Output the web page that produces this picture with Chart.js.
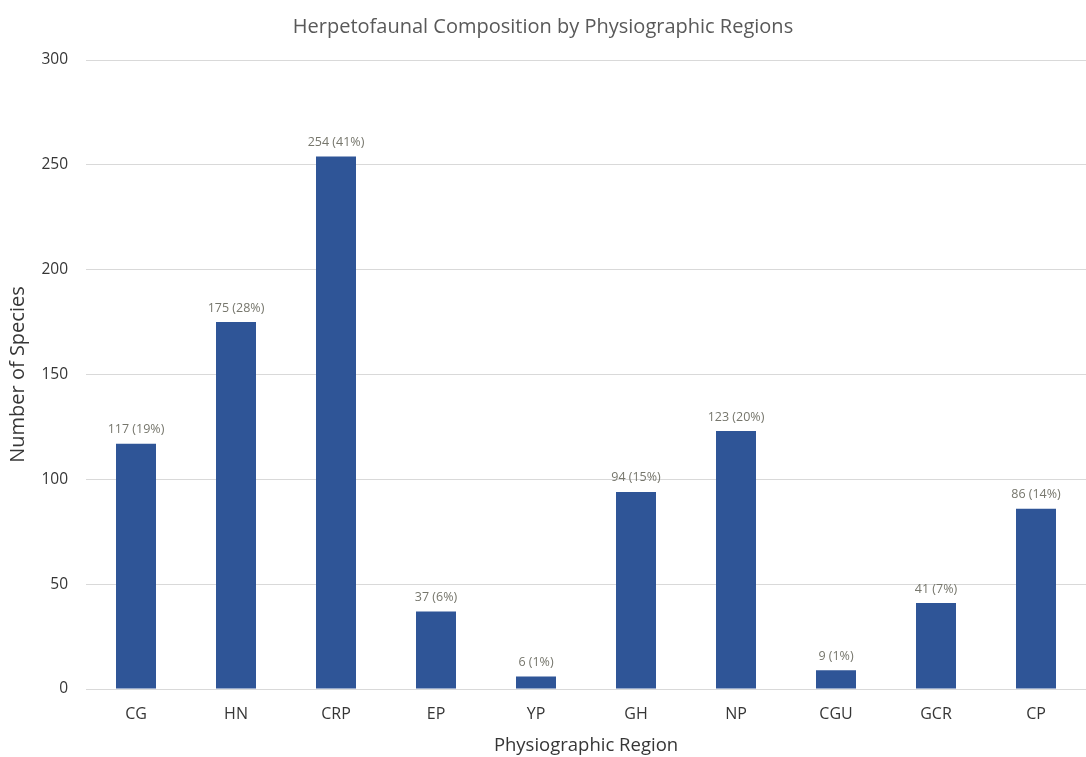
<!DOCTYPE html>
<html>
<head>
<meta charset="utf-8">
<script src="https://cdn.jsdelivr.net/npm/chart.js@4/dist/chart.umd.min.js"></script>
<style>
  html, body { margin: 0; padding: 0; background: #ffffff; }
  #wrap { width: 1086px; height: 757px; }
</style>
</head>
<body>
<div id="wrap"><canvas id="chart" width="1086" height="757"></canvas></div>
<script>
// Physiographic regions and species counts
const regions = ['CG', 'HN', 'CRP', 'EP', 'YP', 'GH', 'NP', 'CGU', 'GCR', 'CP'];
const species = [117, 175, 254, 37, 6, 94, 123, 9, 41, 86];
const sharePct = [19, 28, 41, 6, 1, 15, 20, 1, 7, 14];
const yTicks = [0, 50, 100, 150, 200, 250, 300];

const FONT = '"Open Sans", Lato, sans-serif';

// Writes "count (share%)" above each bar
const barValueLabels = {
  id: 'barValueLabels',
  afterDatasetsDraw(chart) {
    const ctx = chart.ctx;
    const meta = chart.getDatasetMeta(0);
    ctx.save();
    ctx.font = '12.5px ' + FONT;
    ctx.fillStyle = '#76766c';
    ctx.textAlign = 'center';
    ctx.textBaseline = 'middle';
    meta.data.forEach((bar, i) => {
      ctx.fillText(species[i] + ' (' + sharePct[i] + '%)', bar.x, bar.y - 14);
    });
    ctx.restore();
  }
};

new Chart(document.getElementById('chart'), {
  type: 'bar',
  data: {
    labels: regions,
    datasets: [{
      data: species,
      backgroundColor: '#2f5597',
      borderWidth: 0,
      barPercentage: 1,
      categoryPercentage: 0.4
    }]
  },
  options: {
    responsive: false,
    animation: false,
    layout: { padding: { left: 0, right: 0, top: 0, bottom: 0 } },
    plugins: {
      legend: { display: false },
      tooltip: { enabled: false },
      title: {
        display: true,
        text: 'Herpetofaunal Composition by Physiographic Regions',
        color: '#595959',
        font: { family: FONT, size: 20, weight: 'normal' },
        padding: { top: 15, bottom: 21 }
      }
    },
    scales: {
      x: {
        grid: { display: false, drawTicks: false },
        border: { display: true, color: '#d9d9d9', width: 1 },
        ticks: {
          color: '#363636',
          font: { family: FONT, size: 16 },
          padding: 16
        },
        title: {
          display: true,
          text: 'Physiographic Region',
          color: '#363636',
          font: { family: FONT, size: 18.5 },
          padding: { top: 10, bottom: 0 }
        },
        afterFit(scale) { scale.height = 68; }
      },
      y: {
        min: 0,
        max: 300,
        afterBuildTicks(scale) { scale.ticks = yTicks.map(v => ({ value: v })); },
        grid: { color: '#d9d9d9', lineWidth: 1, drawTicks: false },
        border: { display: false },
        ticks: {
          color: '#363636',
          font: { family: FONT, size: 15.5 },
          padding: 18
        },
        title: {
          display: true,
          text: 'Number of Species',
          color: '#363636',
          font: { family: FONT, size: 20 },
          padding: { top: 6, bottom: 0 }
        },
        afterFit(scale) { scale.width = 86; }
      }
    }
  },
  plugins: [barValueLabels]
});
</script>
</body>
</html>
